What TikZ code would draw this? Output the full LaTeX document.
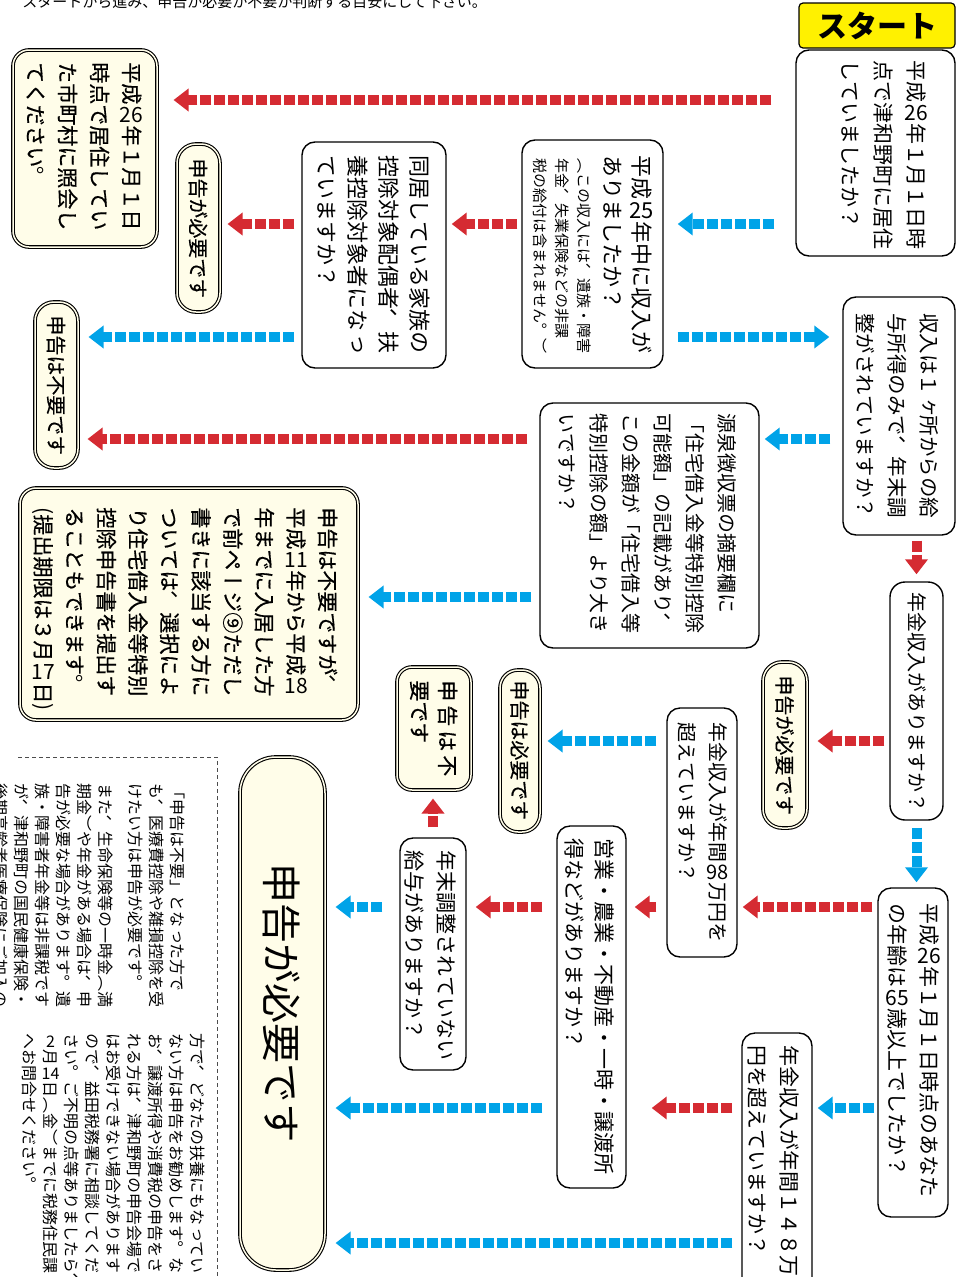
\documentclass[tikz,border=0pt]{standalone}
\usepackage{fontspec}
\usetikzlibrary{arrows.meta}
\newfontfamily\jpf{Noto Sans CJK JP}
\newfontfamily\vjp[Vertical=RotatedGlyphs,RawFeature=+vert]{Noto Sans CJK JP}
\newfontfamily\vjpb[Vertical=RotatedGlyphs,RawFeature=+vert,FakeBold=0.6]{Noto Sans CJK JP}
\definecolor{noRed}{RGB}{213,43,50}
\definecolor{yesBlue}{RGB}{0,163,232}
\definecolor{startYellow}{RGB}{255,241,0}
\definecolor{resCream}{RGB}{255,253,233}
% vertical text: columns right to left, first column centre = right edge of the box
\newcommand\vf[2]{\vjp\fontsize{#1}{#2}\selectfont}
\newcommand\vfb[2]{\vjpb\fontsize{#1}{#2}\selectfont}
\newcommand\tate[1]{\rotatebox{-90}{\raisebox{0pt}[.38em][\dimexpr\height+\depth\relax]{\begin{minipage}[t]{400pt}\lineskiplimit=-\maxdimen\raggedright #1\end{minipage}}}}
\newcommand\tcy[1]{\makebox[1em]{\sbox0{\rotatebox{90}{\jpf #1}}\raisebox{\dimexpr(\dp0-\ht0)/2+.38em\relax}{\usebox0}}}
\newcommand\hparen[1]{\raisebox{.05em}{\jpf #1}}
\newcommand\vpunc[1]{\makebox[1em][l]{\kern-.63em\raisebox{.43em}{\rotatebox{90}{\makebox[1em][l]{\vrule height .88em depth .12em width 0pt\jpf #1}}}}}
\newcommand\vcomma{\vpunc{、}}
\newcommand\vstop{\vpunc{。}}
\newcommand\vbr[1]{{\jpf #1}}

\tikzset{every picture/.style={line width=0.75pt},
  qbox/.style={draw, fill=white, line width=1.4pt, rounded corners=13pt, inner sep=0pt},
  resbox/.style={draw, fill=resCream, double=resCream, double distance=1.5pt, line width=1.1pt, rounded corners=13pt, inner sep=0pt},
  startbox/.style={draw, fill=startYellow, line width=1.2pt, rounded corners=4pt, inner sep=0pt},
  vtxt/.style={anchor=north east, inner sep=0pt},
  flowline/.style={line width=10pt, dash pattern=on 11pt off 3pt, -{Triangle[length=15pt,width=22pt]}},
  noline/.style={flowline, draw=noRed},
  yesline/.style={flowline, draw=yesBlue},
  notedash/.style={line width=0.8pt, dash pattern=on 4pt off 3pt, draw=black!70}
}

\begin{document}
\begin{tikzpicture}[x=1pt,y=1pt,yscale=-1,xscale=1]
    \path[use as bounding box, fill=white] (0,0) rectangle (964,1277);

    % Text Node
    \node[anchor=west, inner sep=0pt, font=\jpf\fontsize{15}{15}\selectfont] (title) at (22,1.5) {スタートから進み、申告が必要か不要か判断する目安にして下さい。};

    %Shape: Boxes
    \node[startbox, minimum width=156pt, minimum height=45pt, font=\jpf\bfseries\fontsize{30}{30}\selectfont] (start) at (877,25.5) {スタート};
    \node[qbox, minimum width=159pt, minimum height=206pt] (q1) at (875.5,153) {};
    \node[resbox, minimum width=144pt, minimum height=197pt, rounded corners=16pt] (r1) at (85,148.5) {};
    \node[qbox, minimum width=141pt, minimum height=228pt] (q2) at (592.5,254) {};
    \node[qbox, minimum width=144pt, minimum height=226pt] (q3) at (374,255) {};
    \node[resbox, minimum width=43pt, minimum height=168pt, rounded corners=19pt] (r2) at (198.5,228) {};
    \node[resbox, minimum width=43pt, minimum height=166pt, rounded corners=19pt] (r3) at (56.5,385) {};
    \node[qbox, minimum width=112pt, minimum height=238pt] (q4) at (899,416) {};
    \node[qbox, minimum width=219pt, minimum height=245pt] (q5) at (649.5,525.5) {};
    \node[resbox, minimum width=338pt, minimum height=232pt, rounded corners=16pt] (r4) at (189,604) {};
    \node[qbox, minimum width=53pt, minimum height=238pt, rounded corners=15pt] (q6) at (916.5,701) {};
    \node[resbox, minimum width=44pt, minimum height=166pt, rounded corners=19pt] (r5) at (785,745) {};
    \node[qbox, minimum width=70pt, minimum height=249pt] (q9) at (702,832.5) {};
    \node[resbox, minimum width=40pt, minimum height=162pt, rounded corners=18pt] (r6) at (520,751) {};
    \node[resbox, minimum width=74pt, minimum height=123pt, rounded corners=15pt] (r8) at (434,728.5) {};
    \node[qbox, minimum width=70pt, minimum height=329pt] (q7) at (913,1052.5) {};
    \node[qbox, minimum width=70pt, minimum height=267pt] (q10) at (777,1166.5) {};
    \node[qbox, minimum width=69pt, minimum height=362pt] (q11) at (591.5,1007) {};
    \node[qbox, minimum width=66pt, minimum height=232pt] (q12) at (433,954) {};
    \node[resbox, minimum width=85pt, minimum height=513pt, rounded corners=36pt] (r7) at (282.5,1013.5) {};

    %Straight Lines: note frame
    \draw[notedash] (18,757) -- (217,757) -- (217,1280);

    % rows of the connectors
    \coordinate (rowA) at (0,100);
    \coordinate (rowB) at (0,224);
    \coordinate (rowC) at (0,337);
    \coordinate (rowD) at (0,439);
    \coordinate (rowE) at (0,597);
    \coordinate (rowF) at (0,741);
    \coordinate (rowG) at (0,907);
    \coordinate (rowH) at (0,1108);
    \coordinate (rowI) at (0,1243);

    %Straight Lines: connectors
    \draw[noline, shorten <=24pt, shorten >=16pt] (q1.west |- rowA) -- (r1.east |- rowA);
    \draw[yesline, shorten <=21pt, shorten >=14pt] (q1.west |- rowB) -- (q2.east |- rowB);
    \draw[noline, shorten <=4pt, shorten >=5pt] (q2.west |- rowB) -- (q3.east |- rowB);
    \draw[noline, shorten <=7pt, shorten >=7pt] (q3.west |- rowB) -- (r2.east |- rowB);
    \draw[yesline, shorten <=14pt, shorten >=13pt] (q2.east |- rowC) -- (q4.west |- rowC);
    \draw[yesline, shorten <=7pt, shorten >=10pt] (q3.west |- rowC) -- (r3.east |- rowC);
    \draw[yesline, shorten <=12pt, shorten >=5pt] (q4.west |- rowD) -- (q5.east |- rowD);
    \draw[noline, shorten <=12pt, shorten >=9pt] (q5.west |- rowD) -- (r3.east |- rowD);
    \draw[yesline, shorten <=8pt, shorten >=10pt] (q5.west |- rowE) -- (r4.east |- rowE);
    \draw[noline, shorten <=5pt, shorten >=7pt] (q6.north |- q4.south) -- (q6.north);
    \draw[noline, shorten <=5pt, shorten >=10pt] (q6.west |- rowF) -- (r5.east |- rowF);
    \draw[yesline, shorten <=7pt, shorten >=5pt] (q6.south) -- (q6.south |- q7.north);
    \draw[yesline, shorten <=10pt, shorten >=7pt] (q9.west |- rowF) -- (r6.east |- rowF);
    \draw[noline, shorten <=5pt, shorten >=5pt] (q7.west |- rowG) -- (q9.east |- rowG);
    \draw[noline, shorten <=10pt, shorten >=8pt] (q9.west |- rowG) -- (q11.east |- rowG);
    \draw[noline, shorten <=14pt, shorten >=9pt] (q11.west |- rowG) -- (q12.east |- rowG);
    \draw[yesline, shorten <=17pt, shorten >=10pt] (q12.west |- rowG) -- (r7.east |- rowG);
    \draw[noline, shorten <=10pt, shorten >=8pt] (q12.north) -- (q12.north |- r8.south);
    \draw[yesline, shorten <=3pt, shorten >=5pt] (q7.west |- rowH) -- (q10.east |- rowH);
    \draw[noline, shorten <=9pt, shorten >=25pt] (q10.west |- rowH) -- (q11.east |- rowH);
    \draw[yesline, shorten <=14pt, shorten >=10pt] (q11.west |- rowH) -- (r7.east |- rowH);
    \draw[yesline, shorten <=9pt, shorten >=10pt] (q10.west |- rowI) -- (r7.east |- rowI);

    % Text Node
    \node[vtxt, font=\vf{21}{33}] (q1t) at (917,60) {\tate{平成\tcy{26}年１月１日時\\点で津和野町に居住\\していましたか？}};
    % Text Node
    \node[vtxt, font=\vfb{21}{32}] (r1t) at (132,62) {\tate{平成\tcy{26}年１月１日\\時点で居住してい\\た市町村に照会し\\てください\vstop{}}};
    % Text Node
    \node[vtxt, font=\vf{22}{29}] (q2t) at (642,155) {\tate{平成\tcy{25}年中に収入が\\ありましたか？}};
    % Text Node
    \node[vtxt, font=\vf{15}{22}] (q2s) at (585,158) {\tate{（この収入には\vcomma{}遺族・障害\\年金\vcomma{}失業保険などの非課\\税の給付は含まれません\vstop{}）}};
    % Text Node
    \node[vtxt, font=\vf{22}{31}] (q3t) at (420,155) {\tate{同居している家族の\\控除対象配偶者\vcomma{}扶\\養控除対象者になっ\\ていますか？}};
    % Text Node
    \node[vtxt, font=\vfb{20}{30}] (r2t) at (198.5,158) {\tate{申告が必要です}};
    % Text Node
    \node[vtxt, font=\vfb{20}{30}] (r3t) at (56.5,315) {\tate{申告は不要です}};
    % Text Node
    \node[vtxt, font=\vf{20.5}{32}] (q4t) at (930,313) {\tate{収入は１ヶ所からの給\\与所得のみで\vcomma{}年末調\\整がされていますか？}};
    % Text Node
    \node[vtxt, font=\vf{20}{32}] (q5t) at (727,413) {\tate{源泉徴収票の摘要欄に\\\vbr{「}住宅借入金等特別控除\\可能額\vbr{」}の記載があり\vcomma{}\\この金額が\vbr{「}住宅借入等\\特別控除の額\vbr{」}より大き\\いですか？}};
    % Text Node
    \node[vtxt, font=\vfb{21}{31.6}] (r4t) at (328,507) {\tate{申告は不要ですが\vcomma{}\\平成\tcy{11}年から平成\tcy{18}\\年までに入居した方\\で前ページ⑨ただし\\書きに該当する方に\\ついては\vcomma{}選択によ\\り住宅借入金等特別\\控除申告書を提出す\\ることもできます\vstop{}\\\hparen{(}提出期限は３月\tcy{17}日\hparen{)}}};
    % Text Node
    \node[vtxt, font=\vf{20}{30}] (q6t) at (917,592) {\tate{年金収入がありますか？}};
    % Text Node
    \node[vtxt, font=\vfb{20}{30}] (r5t) at (785,675) {\tate{申告が必要です}};
    % Text Node
    \node[vtxt, font=\vf{20}{31}] (q9t) at (718,722) {\tate{年金収入が年間\tcy{98}万円を\\超えていますか？}};
    % Text Node
    \node[vtxt, font=\vfb{20}{30}] (r6t) at (520,680) {\tate{申告は必要です}};
    % Text Node
    \node[vtxt, font=\vfb{21}{28}] (r8t) at (448,680) {\tate{申\kern4pt告\kern4pt は\kern4pt 不\\要です}};
    % Text Node
    \node[vtxt, font=\vf{21}{32}] (q7t) at (930,903) {\tate{平成\tcy{26}年１月１日時点のあなた\\の年齢は\tcy{65}歳以上でしたか？}};
    % Text Node
    \node[vtxt, font=\vf{21}{32}] (q10t) at (790,1045) {\tate{年金収入が年間１４８万\\円を超えていますか？}};
    % Text Node
    \node[vtxt, font=\vf{21}{30}] (q11t) at (605,838) {\tate{営業・農業・不動産・一時・譲渡所\\得などがありますか？}};
    % Text Node
    \node[vtxt, font=\vf{21}{32}] (q12t) at (447,850) {\tate{年末調整されていない\\給与がありますか？}};
    % Text Node
    \node[vtxt, font=\vf{40}{40}] (r7t) at (282,863) {\tate{申告が必要です}};
    % Text Node
    \node[vtxt, font=\vf{16}{21}] (note1) at (198,783) {\tate{\kern.4em\vbr{「}申告は不要\vbr{」}となった方で\\も\vcomma{}医療費控除や雑損控除を受\\けたい方は申告が必要です\vstop{}\\\kern.6em また\vcomma{}生命保険等の一時金（満\\期金）や年金がある場合は\vcomma{}申\\告が必要な場合があります\vstop{}遺\\族・障害者年金等は非課税です\\が\vcomma{}津和野町の国民健康保険・\\後期高齢者医療保険にご加入の}};
    % Text Node
    \node[vtxt, font=\vf{16}{21}] (note2) at (198,1033) {\tate{方で\vcomma{}どなたの扶養にもなってい\\ない方は申告をお勧めします\vstop{}な\\お\vcomma{}譲渡所得や消費税の申告をさ\\れる方は\vcomma{}津和野町の申告会場で\\はお受けできない場合があります\\ので\vcomma{}益田税務署に相談してくだ\\さい\vstop{}ご不明の点等ありましたら\vcomma{}\\\tcy{2}月\tcy{14}日（金）までに税務住民課\\へお問合せください\vstop{}}};

\end{tikzpicture}
\end{document}
